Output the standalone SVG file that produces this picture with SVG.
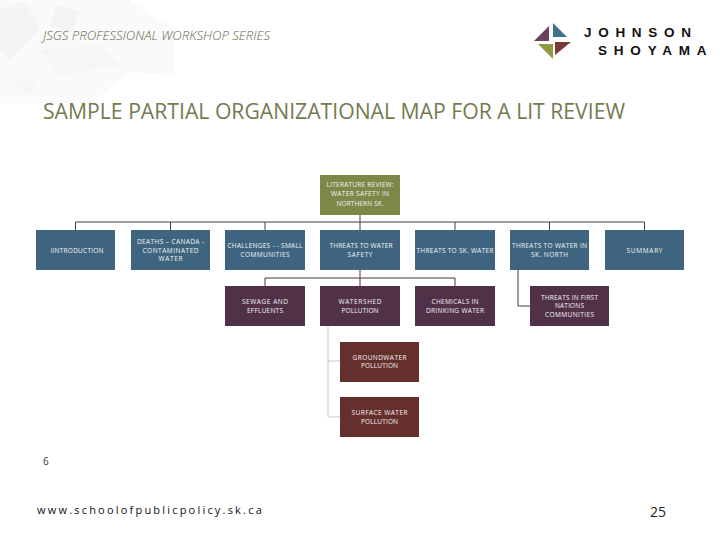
<svg xmlns="http://www.w3.org/2000/svg" width="720" height="540" viewBox="0 0 720 540">
<style>
.n{font-family:"Open Sans","Liberation Sans",sans-serif;font-size:6.5px;fill:#f4f4f4;text-anchor:middle}
.c{fill:none;stroke:#4a3a3a;stroke-width:1}
.g{fill:none;stroke:#c8c8c8;stroke-width:1}
.blue{fill:#3f6480}.plum{fill:#513147}.brown{fill:#652f2c}.olive{fill:#7d8748}
</style>
<rect width="720" height="540" fill="#fff"/>
<g id="background">
<path d="M0 0H130L174 30V76L130 72L90 103H0Z" fill="#fafafa"/>
<path d="M0 10L25 0L40 30L10 60L0 50Z" fill="#f4f4f4"/>
<path d="M55 5L80 12L70 35L50 25Z" fill="#f4f4f4"/>
<path d="M40 50L100 45L120 65L60 75Z" fill="#f6f6f6"/>
<path d="M10 80L40 82L28 95Z" fill="#f6f6f6"/>
</g>
<text x="43" y="40" font-family="Open Sans,Liberation Sans,sans-serif" font-size="13" font-style="italic" textLength="227" lengthAdjust="spacingAndGlyphs" fill="#62664a" font-weight="300">JSGS PROFESSIONAL WORKSHOP SERIES</text>
<text x="43" y="119" font-family="Open Sans,Liberation Sans,sans-serif" font-size="21" textLength="582" lengthAdjust="spacingAndGlyphs" fill="#747a50">SAMPLE PARTIAL ORGANIZATIONAL MAP FOR A LIT REVIEW</text>
<g id="logo">
<path d="M553 23L567 37H553Z" fill="#427088"/>
<path d="M549 26V41H534Z" fill="#69405f"/>
<path d="M538 44H553V59Z" fill="#8f9a3e"/>
<path d="M555 42H571L555 55Z" fill="#7a3a3a"/>
<text x="584" y="37" font-family="Liberation Sans,sans-serif" font-size="13.5" font-weight="bold" letter-spacing="6.7" fill="#111">JOHNSON</text>
<text x="598" y="55" font-family="Liberation Sans,sans-serif" font-size="13.5" font-weight="bold" letter-spacing="6.8" fill="#111">SHOYAMA</text>
</g>
<g id="connectors">
<path class="c" d="M360 215V230M75.500 222H644.500M75.500 222V230M170.500 222V230M265 222V230M455 222V230M549.500 222V230M644.500 222V230"/>
<path class="c" d="M360 270V286M265 278H455M265 278V286M455 278V286"/>
<path class="c" d="M518 270V306H530"/>
<path class="g" d="M328 326V417H340M328 361H340"/>
</g>
<g id="root"><rect class="olive" x="320" y="175" width="80" height="40"/><text class="n" x="360" y="187" textLength="67">LITERATURE REVIEW:</text><text class="n" x="360" y="196" textLength="58">WATER SAFETY IN</text><text class="n" x="360" y="206" textLength="47">NORTHERN SK.</text></g>
<g id="introduction"><rect class="blue" x="36" y="230" width="79" height="40"/><text class="n" x="77" y="253" textLength="53">IINTRODUCTION</text></g>
<g id="deaths"><rect class="blue" x="131" y="230" width="79" height="40"/><text class="n" x="170.500" y="244" textLength="67">DEATHS – CANADA -</text><text class="n" x="170.500" y="253" textLength="56">CONTAMINATED</text><text class="n" x="170.500" y="261" textLength="24">WATER</text></g>
<g id="challenges"><rect class="blue" x="225" y="230" width="80" height="40"/><text class="n" x="265" y="248" textLength="75">CHALLENGES - - SMALL</text><text class="n" x="265" y="257" textLength="49">COMMUNITIES</text></g>
<g id="threats-safety"><rect class="blue" x="320" y="230" width="80" height="40"/><text class="n" x="361" y="248" textLength="63">THREATS TO WATER</text><text class="n" x="360" y="257" textLength="25">SAFETY</text></g>
<g id="threats-sk"><rect class="blue" x="415" y="230" width="80" height="40"/><text class="n" x="455" y="253" textLength="77">THREATS TO SK. WATER</text></g>
<g id="threats-north"><rect class="blue" x="510" y="230" width="79" height="40"/><text class="n" x="549.500" y="248" textLength="75">THREATS TO WATER IN</text><text class="n" x="549.500" y="257" textLength="37">SK. NORTH</text></g>
<g id="summary"><rect class="blue" x="605" y="230" width="79" height="40"/><text class="n" x="644.500" y="253" textLength="36">SUMMARY</text></g>
<g id="sewage"><rect class="plum" x="225" y="286" width="80" height="40"/><text class="n" x="265" y="304" textLength="46">SEWAGE AND</text><text class="n" x="265" y="313" textLength="36">EFFLUENTS</text></g>
<g id="watershed"><rect class="plum" x="320" y="286" width="80" height="40"/><text class="n" x="360" y="304" textLength="43">WATERSHED</text><text class="n" x="360" y="313" textLength="37">POLLUTION</text></g>
<g id="chemicals"><rect class="plum" x="415" y="286" width="80" height="40"/><text class="n" x="455" y="304" textLength="47">CHEMICALS IN</text><text class="n" x="455" y="313" textLength="58">DRINKING WATER</text></g>
<g id="first-nations"><rect class="plum" x="530" y="286" width="79" height="40"/><text class="n" x="569.500" y="300" textLength="57">THREATS IN FIRST</text><text class="n" x="569.500" y="308" textLength="29">NATIONS</text><text class="n" x="569.500" y="317" textLength="49">COMMUNITIES</text></g>
<g id="groundwater"><rect class="brown" x="340" y="342" width="79" height="40"/><text class="n" x="379.500" y="360" textLength="54">GROUNDWATER</text><text class="n" x="379.500" y="368" textLength="37">POLLUTION</text></g>
<g id="surface"><rect class="brown" x="340" y="397" width="79" height="40"/><text class="n" x="379.500" y="415" textLength="56">SURFACE WATER</text><text class="n" x="379.500" y="424" textLength="37">POLLUTION</text></g>
<text x="43" y="465" font-family="Open Sans,Liberation Sans,sans-serif" font-size="10" fill="#333">6</text>
<text x="37" y="514" font-family="Open Sans,Liberation Sans,sans-serif" font-size="11" letter-spacing="2.2" fill="#111">www.schoolofpublicpolicy.sk.ca</text>
<text x="658" y="517" font-family="Open Sans,Liberation Sans,sans-serif" font-size="14" text-anchor="middle" fill="#222">25</text>
</svg>
